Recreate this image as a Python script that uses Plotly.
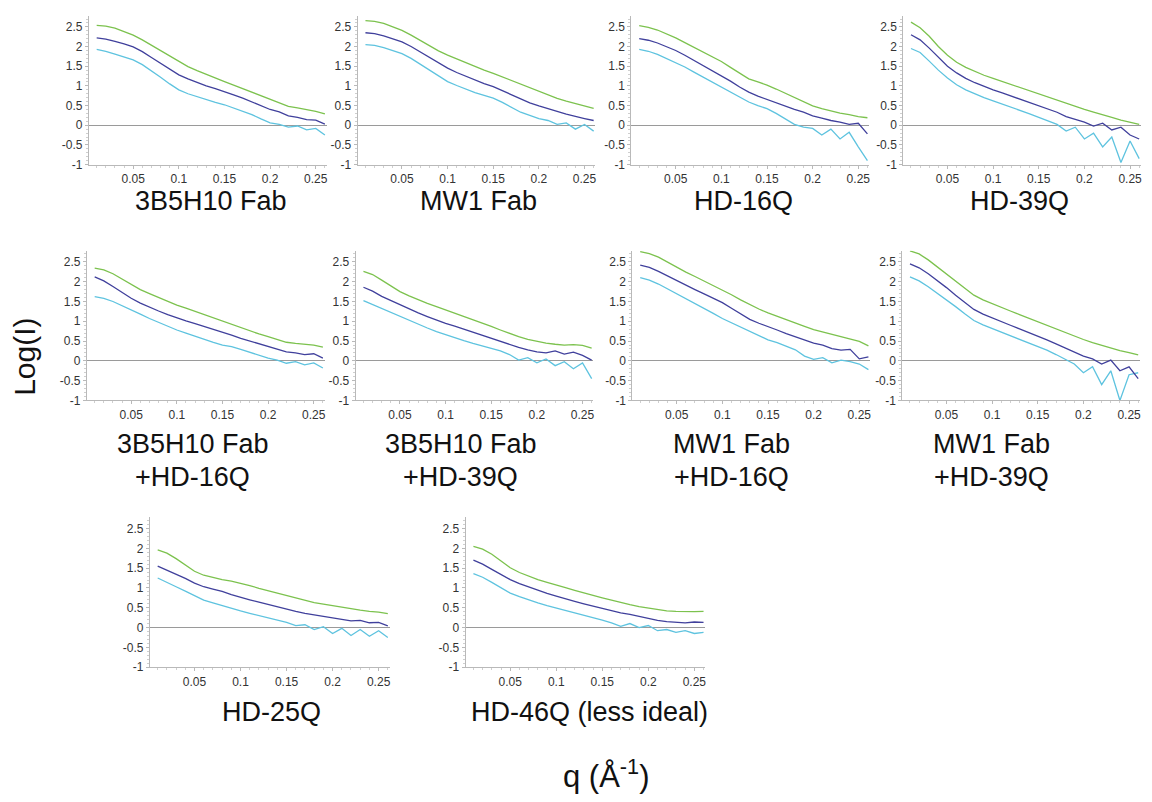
import plotly.graph_objects as go

# ---------------- data ----------------
q = [0.01, 0.02, 0.03, 0.04, 0.05, 0.06, 0.07, 0.08, 0.09, 0.10, 0.11, 0.12, 0.13,
     0.14, 0.15, 0.16, 0.17, 0.18, 0.19, 0.20, 0.21, 0.22, 0.23, 0.24, 0.25, 0.26]

x_tick_values = [0.05, 0.1, 0.15, 0.2, 0.25]
x_tick_labels = ["0.05", "0.1", "0.15", "0.2", "0.25"]
y_tick_values = [-1, -0.5, 0, 0.5, 1, 1.5, 2, 2.5]
y_tick_labels = ["-1", "-0.5", "0", "0.5", "1", "1.5", "2", "2.5"]

# Panel 1: 3B5H10 Fab
p1_green = [2.54, 2.52, 2.47, 2.39, 2.29, 2.17, 2.03, 1.89, 1.75, 1.61, 1.49, 1.39, 1.29,
            1.20, 1.11, 1.02, 0.93, 0.84, 0.74, 0.65, 0.56, 0.48, 0.44, 0.40, 0.35, 0.29]
p1_navy = [2.22, 2.19, 2.13, 2.07, 1.99, 1.87, 1.72, 1.57, 1.42, 1.28, 1.18, 1.08, 1.00,
           0.93, 0.86, 0.77, 0.69, 0.60, 0.50, 0.40, 0.34, 0.24, 0.20, 0.14, 0.13, 0.03]
p1_cyan = [1.93, 1.88, 1.81, 1.74, 1.66, 1.54, 1.39, 1.22, 1.05, 0.90, 0.80, 0.72, 0.65,
           0.58, 0.52, 0.44, 0.35, 0.27, 0.16, 0.06, 0.02, -0.05, -0.02, -0.12, -0.08, -0.25]

# Panel 2: MW1 Fab
p2_green = [2.66, 2.64, 2.59, 2.51, 2.41, 2.29, 2.15, 2.01, 1.89, 1.78, 1.68, 1.58, 1.49,
            1.40, 1.32, 1.23, 1.13, 1.03, 0.94, 0.85, 0.77, 0.68, 0.61, 0.55, 0.49, 0.43]
p2_navy = [2.35, 2.33, 2.27, 2.20, 2.12, 2.00, 1.86, 1.72, 1.58, 1.45, 1.34, 1.24, 1.15,
           1.06, 0.98, 0.88, 0.77, 0.66, 0.57, 0.49, 0.41, 0.35, 0.28, 0.22, 0.17, 0.12]
p2_cyan = [2.05, 2.03, 1.97, 1.90, 1.82, 1.70, 1.55, 1.40, 1.25, 1.11, 1.01, 0.91, 0.83,
           0.76, 0.69, 0.58, 0.45, 0.33, 0.25, 0.17, 0.12, 0.02, 0.06, -0.10, 0.02, -0.15]

# Panel 3: HD-16Q
p3_green = [2.53, 2.49, 2.42, 2.33, 2.22, 2.10, 1.98, 1.86, 1.74, 1.62, 1.47, 1.32, 1.18,
            1.10, 1.02, 0.92, 0.81, 0.70, 0.59, 0.49, 0.42, 0.36, 0.31, 0.27, 0.22, 0.19]
p3_navy = [2.20, 2.16, 2.09, 2.00, 1.90, 1.78, 1.65, 1.53, 1.40, 1.27, 1.12, 0.97, 0.84,
           0.74, 0.65, 0.57, 0.48, 0.40, 0.33, 0.24, 0.18, 0.12, 0.08, 0.02, 0.05, -0.22]
p3_cyan = [1.93, 1.88, 1.80, 1.70, 1.60, 1.48, 1.35, 1.22, 1.09, 0.97, 0.84, 0.71, 0.59,
           0.50, 0.42, 0.30, 0.17, 0.02, -0.05, -0.08, -0.25, -0.10, -0.35, -0.18, -0.55, -0.90]

# Panel 4: HD-39Q
p4_green = [2.62, 2.48, 2.26, 2.00, 1.78, 1.60, 1.47, 1.36, 1.27, 1.19, 1.11, 1.03, 0.95,
            0.87, 0.79, 0.71, 0.63, 0.55, 0.47, 0.40, 0.33, 0.27, 0.20, 0.13, 0.08, 0.02]
p4_navy = [2.30, 2.17, 1.96, 1.72, 1.50, 1.33, 1.19, 1.08, 0.98, 0.90, 0.82, 0.74, 0.66,
           0.57, 0.49, 0.42, 0.33, 0.22, 0.15, 0.08, -0.02, 0.05, -0.12, -0.05, -0.25, -0.35]
p4_cyan = [1.95, 1.85, 1.63, 1.40, 1.20, 1.03, 0.90, 0.79, 0.70, 0.62, 0.54, 0.46, 0.37,
           0.29, 0.20, 0.10, 0.02, -0.15, -0.05, -0.35, -0.20, -0.55, -0.30, -0.95, -0.40, -0.85]

# Panel 5: 3B5H10 Fab +HD-16Q
p5_green = [2.34, 2.30, 2.20, 2.06, 1.92, 1.80, 1.70, 1.60, 1.50, 1.41, 1.33, 1.25, 1.17,
            1.08, 0.99, 0.91, 0.83, 0.75, 0.68, 0.61, 0.54, 0.47, 0.44, 0.42, 0.40, 0.35]
p5_navy = [2.12, 2.02, 1.88, 1.73, 1.58, 1.46, 1.35, 1.26, 1.17, 1.08, 1.01, 0.94, 0.87,
           0.80, 0.73, 0.65, 0.57, 0.50, 0.43, 0.36, 0.30, 0.23, 0.20, 0.16, 0.18, 0.07]
p5_cyan = [1.62, 1.58, 1.50, 1.40, 1.29, 1.18, 1.07, 0.97, 0.87, 0.78, 0.70, 0.62, 0.54,
           0.47, 0.40, 0.36, 0.29, 0.22, 0.14, 0.07, 0.02, -0.06, -0.02, -0.10, -0.05, -0.18]

# Panel 6: 3B5H10 Fab +HD-39Q
p6_green = [2.26, 2.18, 2.04, 1.89, 1.75, 1.64, 1.54, 1.45, 1.37, 1.29, 1.20, 1.12, 1.04,
            0.95, 0.87, 0.78, 0.69, 0.61, 0.54, 0.49, 0.45, 0.42, 0.40, 0.41, 0.39, 0.32]
p6_navy = [1.86, 1.76, 1.63, 1.52, 1.41, 1.31, 1.21, 1.12, 1.03, 0.95, 0.88, 0.80, 0.72,
           0.64, 0.57, 0.50, 0.42, 0.34, 0.28, 0.23, 0.20, 0.25, 0.17, 0.22, 0.14, 0.02]
p6_cyan = [1.52, 1.42, 1.31, 1.21, 1.12, 1.02, 0.93, 0.83, 0.74, 0.66, 0.58, 0.51, 0.44,
           0.38, 0.32, 0.25, 0.16, 0.02, 0.08, -0.05, 0.05, -0.12, -0.02, -0.20, -0.05, -0.45]

# Panel 7: MW1 Fab +HD-16Q
p7_green = [2.76, 2.71, 2.62, 2.49, 2.36, 2.24, 2.13, 2.02, 1.91, 1.80, 1.67, 1.54, 1.42,
            1.31, 1.21, 1.12, 1.03, 0.95, 0.87, 0.79, 0.73, 0.67, 0.61, 0.55, 0.49, 0.38]
p7_navy = [2.42, 2.36, 2.26, 2.14, 2.02, 1.91, 1.80, 1.69, 1.58, 1.47, 1.33, 1.18, 1.05,
           0.95, 0.87, 0.78, 0.69, 0.61, 0.52, 0.45, 0.40, 0.31, 0.27, 0.29, 0.05, 0.10]
p7_cyan = [2.10, 2.04, 1.94, 1.82, 1.70, 1.58, 1.46, 1.33, 1.20, 1.07, 0.96, 0.85, 0.75,
           0.64, 0.53, 0.46, 0.38, 0.28, 0.12, 0.04, 0.08, -0.05, 0.02, -0.02, -0.08, -0.22]

# Panel 8: MW1 Fab +HD-39Q
p8_green = [2.78, 2.70, 2.55, 2.37, 2.19, 2.01, 1.84, 1.66, 1.54, 1.44, 1.35, 1.26, 1.17,
            1.08, 0.99, 0.90, 0.80, 0.71, 0.62, 0.54, 0.46, 0.39, 0.32, 0.26, 0.21, 0.15]
p8_navy = [2.45, 2.35, 2.20, 2.03, 1.85, 1.66, 1.48, 1.30, 1.18, 1.08, 0.99, 0.90, 0.81,
           0.72, 0.63, 0.53, 0.43, 0.33, 0.22, 0.12, 0.05, -0.08, 0.02, -0.25, -0.15, -0.45]
p8_cyan = [2.12, 2.02, 1.87, 1.71, 1.55, 1.37, 1.19, 1.02, 0.91, 0.82, 0.73, 0.64, 0.55,
           0.46, 0.37, 0.27, 0.16, 0.04, -0.08, -0.30, -0.15, -0.60, -0.25, -1.00, -0.35, -0.30]

# Panel 9: HD-25Q
p9_green = [1.96, 1.88, 1.74, 1.58, 1.42, 1.32, 1.26, 1.21, 1.17, 1.12, 1.06, 0.99, 0.93,
            0.86, 0.80, 0.74, 0.68, 0.63, 0.59, 0.55, 0.51, 0.47, 0.44, 0.41, 0.39, 0.35]
p9_navy = [1.55, 1.45, 1.35, 1.24, 1.12, 1.03, 0.97, 0.91, 0.83, 0.76, 0.70, 0.64, 0.58,
           0.52, 0.46, 0.41, 0.36, 0.32, 0.28, 0.25, 0.21, 0.17, 0.18, 0.12, 0.13, 0.04]
p9_cyan = [1.25, 1.15, 1.03, 0.92, 0.80, 0.69, 0.62, 0.55, 0.48, 0.42, 0.36, 0.30, 0.25,
           0.19, 0.13, 0.05, 0.07, -0.05, 0.02, -0.15, -0.02, -0.20, -0.05, -0.22, -0.08, -0.25]

# Panel 10: HD-46Q (less ideal)
p10_green = [2.05, 1.98, 1.85, 1.68, 1.51, 1.39, 1.29, 1.21, 1.14, 1.08, 1.01, 0.94, 0.87,
             0.81, 0.75, 0.69, 0.63, 0.58, 0.53, 0.49, 0.45, 0.42, 0.41, 0.40, 0.40, 0.41]
p10_navy = [1.70, 1.60, 1.47, 1.33, 1.21, 1.11, 1.02, 0.94, 0.86, 0.79, 0.72, 0.66, 0.60,
            0.54, 0.49, 0.43, 0.37, 0.33, 0.28, 0.24, 0.18, 0.15, 0.14, 0.12, 0.14, 0.13]
p10_cyan = [1.36, 1.27, 1.14, 1.00, 0.87, 0.78, 0.69, 0.62, 0.55, 0.49, 0.43, 0.37, 0.31,
            0.26, 0.19, 0.12, 0.03, 0.10, 0.00, 0.05, -0.08, -0.05, -0.12, -0.08, -0.15, -0.12]

panel_green = [p1_green, p2_green, p3_green, p4_green, p5_green,
               p6_green, p7_green, p8_green, p9_green, p10_green]
panel_navy = [p1_navy, p2_navy, p3_navy, p4_navy, p5_navy,
              p6_navy, p7_navy, p8_navy, p9_navy, p10_navy]
panel_cyan = [p1_cyan, p2_cyan, p3_cyan, p4_cyan, p5_cyan,
              p6_cyan, p7_cyan, p8_cyan, p9_cyan, p10_cyan]

panel_labels_line1 = ["3B5H10 Fab", "MW1 Fab", "HD-16Q", "HD-39Q",
                      "3B5H10 Fab", "3B5H10 Fab", "MW1 Fab", "MW1 Fab",
                      "HD-25Q", "HD-46Q (less ideal)"]
panel_labels_line2 = ["", "", "", "",
                      "+HD-16Q", "+HD-39Q", "+HD-16Q", "+HD-39Q",
                      "", ""]

# ---------------- layout geometry (pixels) ----------------
W, H = 1152, 802
# (left, right, top, bottom) of each plotting area
boxes = [
    (89, 327, 16, 166), (358, 596, 16, 166), (632, 870, 16, 166), (904, 1142, 16, 166),
    (87, 325, 253, 404), (356, 594, 253, 404), (633, 871, 253, 404), (903, 1141, 253, 404),
    (150, 390, 522, 673), (466, 706, 522, 673),
]
# label centres (x, y) in pixels
label_pos = [
    (211, 203), (479, 203), (744, 203), (1020, 203),
    (193, 448), (461, 448), (732, 448), (992, 448),
    (272, 718), (590, 718),
]
line2_dy = 33

GREEN = "#7cc24e"
NAVY = "#40409c"
CYAN = "#5ec3df"
FONT = "Liberation Sans, Arial, sans-serif"

fig = go.Figure()
layout = dict(
    width=W, height=H, autosize=False,
    margin=dict(l=0, r=0, t=0, b=0),
    paper_bgcolor="white", plot_bgcolor="white",
    showlegend=False,
    font=dict(family=FONT, color="#222"),
)
annotations = []

for i, (l, r, t, b) in enumerate(boxes):
    n = i + 1
    xa = "x" if n == 1 else f"x{n}"
    ya = "y" if n == 1 else f"y{n}"
    xkey = "xaxis" if n == 1 else f"xaxis{n}"
    ykey = "yaxis" if n == 1 else f"yaxis{n}"
    for ys, col in ((panel_cyan[i], CYAN), (panel_navy[i], NAVY), (panel_green[i], GREEN)):
        fig.add_trace(go.Scatter(x=q, y=ys, mode="lines", xaxis=xa, yaxis=ya,
                                 line=dict(color=col, width=1.3), hoverinfo="skip"))
    layout[xkey] = dict(
        domain=[l / W, r / W], anchor=ya, range=[0.0015, 0.262],
        tickmode="array", tickvals=x_tick_values, ticktext=x_tick_labels,
        showgrid=False, zeroline=False, showline=True, linecolor="#b9b9b9", linewidth=1,
        ticks="outside", ticklen=3, tickcolor="#b9b9b9",
        minor=dict(ticks="outside", ticklen=2, dtick=0.01, tick0=0, tickcolor="#cfcfcf"),
        tickfont=dict(size=12, color="#333", family=FONT),
    )
    layout[ykey] = dict(
        domain=[1 - b / H, 1 - t / H], anchor=xa, range=[-1, 2.78],
        tickmode="array", tickvals=y_tick_values, ticktext=y_tick_labels,
        showgrid=False, zeroline=True, zerolinecolor="#9a9a9a", zerolinewidth=1,
        showline=True, linecolor="#b9b9b9", linewidth=1,
        ticks="outside", ticklen=3, tickcolor="#b9b9b9",
        minor=dict(ticks="outside", ticklen=2, dtick=0.1, tick0=0, tickcolor="#cfcfcf"),
        tickfont=dict(size=12, color="#333", family=FONT),
    )
    cx, cy = label_pos[i]
    annotations.append(dict(
        x=cx / W, y=1 - cy / H, xref="paper", yref="paper", showarrow=False,
        text=panel_labels_line1[i], xanchor="center", yanchor="middle",
        font=dict(size=27, color="#111", family=FONT)))
    if panel_labels_line2[i]:
        annotations.append(dict(
            x=cx / W, y=1 - (cy + line2_dy) / H, xref="paper", yref="paper", showarrow=False,
            text=panel_labels_line2[i], xanchor="center", yanchor="middle",
            font=dict(size=27, color="#111", family=FONT)))

annotations.append(dict(
    x=25 / W, y=1 - 360 / H, xref="paper", yref="paper", showarrow=False,
    text="Log(I)", textangle=-90, xanchor="center", yanchor="middle",
    font=dict(size=30, color="#111", family=FONT)))
annotations.append(dict(
    x=607 / W, y=1 - 781 / H, xref="paper", yref="paper", showarrow=False,
    text="q (Å<sup>-1</sup>)", xanchor="center", yanchor="middle",
    font=dict(size=31, color="#111", family=FONT)))

layout["annotations"] = annotations
fig.update_layout(**layout)
fig.write_html(
    "out.html",
    config={"displayModeBar": False, "staticPlot": True},
    post_script="document.body.style.margin='0px';document.body.style.overflow='hidden';",
)
